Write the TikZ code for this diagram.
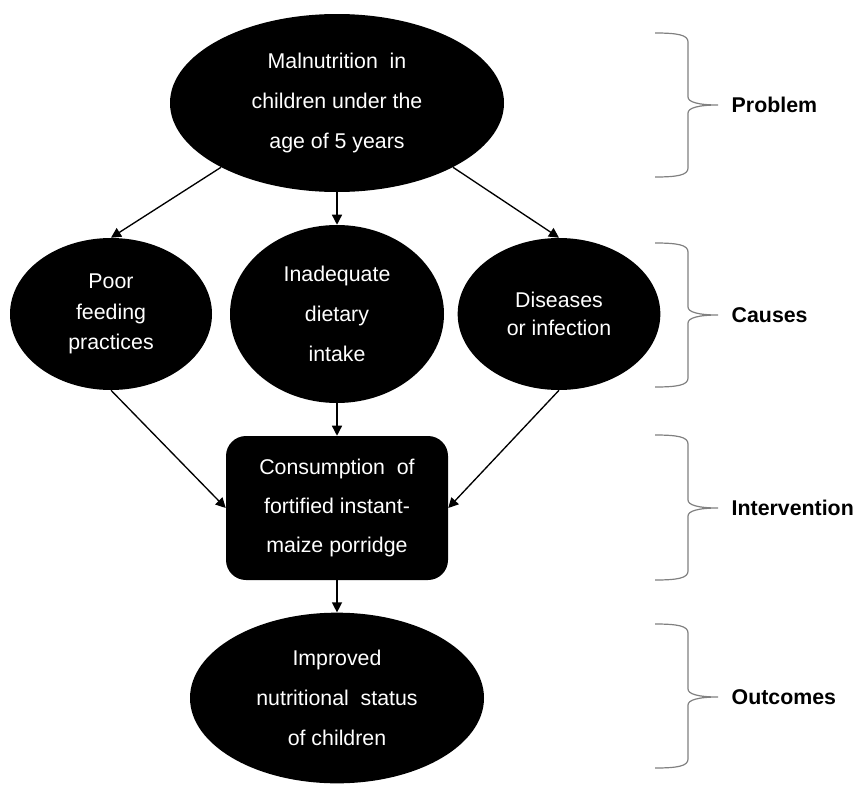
\documentclass[tikz,border=0pt]{standalone}
\usepackage{fontspec}
\setmainfont{Liberation Sans}
\usetikzlibrary{shapes.geometric}
\usetikzlibrary{arrows.meta}

\begin{document}
\begin{tikzpicture}[x=0.75pt,y=-0.75pt,
    >={Triangle[length=7.5pt,width=7.5pt]},
    bubble/.style={ellipse,fill=black,text=white,inner sep=0pt,align=center},
    block/.style={rectangle,rounded corners=15pt,fill=black,text=white,inner sep=0pt,align=center},
    brace/.style={draw=black!50,line width=0.9pt},
    tag/.style={anchor=west,font=\fontsize{16}{19}\selectfont\bfseries},
    link/.style={->,line width=1pt}]
    \useasboundingbox (0,0) rectangle (863,785);

    % 问题、原因、干预、结果
    \node[bubble,minimum width=250.5pt,minimum height=133.5pt,font=\fontsize{16}{30}\selectfont] (top) at (337,103) {Malnutrition\ \ in\\children under the\\age of 5 years};
    \node[bubble,minimum width=151.5pt,minimum height=114pt,font=\fontsize{16}{23}\selectfont] (poor) at (111,314) {Poor\\feeding\\practices};
    \node[bubble,minimum width=160.5pt,minimum height=133.5pt,font=\fontsize{16}{30}\selectfont] (inad) at (337,314) {Inadequate\\dietary\\intake};
    \node[bubble,minimum width=152pt,minimum height=114pt,font=\fontsize{16}{21}\selectfont] (dis) at (559,314) {Diseases\\or infection};
    \node[block,minimum width=166.5pt,minimum height=108pt,font=\fontsize{16}{29}\selectfont] (porr) at (337,508) {Consumption\ \ of\\fortified instant-\\maize porridge};
    \node[bubble,minimum width=220.5pt,minimum height=128pt,font=\fontsize{16}{30}\selectfont] (out) at (337,698) {Improved\\nutritional\ \ status\\of children};

    % 箭头
    \draw[link] (top.209) -- (poor.north);
    \draw[link] (top.south) -- (inad.north);
    \draw[link] (top.-29) -- (dis.north);
    \draw[link] (poor.south) -- (porr.west);
    \draw[link] (inad.south) -- (porr.north);
    \draw[link] (dis.south) -- (porr.east);
    \draw[link] (porr.south) -- (out.north);

    % 右侧括号
    \draw[brace] (655,33) .. controls (678,33) and (688,35) .. (688,42) -- (688,97) .. controls (688,102) and (698,105) .. (718,105) .. controls (698,105) and (688,108) .. (688,113) -- (688,168) .. controls (688,175) and (678,177) .. (655,177);
    \draw[brace] (655,243) .. controls (678,243) and (688,245) .. (688,252) -- (688,307) .. controls (688,312) and (698,315) .. (718,315) .. controls (698,315) and (688,318) .. (688,323) -- (688,378) .. controls (688,385) and (678,387) .. (655,387);
    \draw[brace] (655,435) .. controls (678,435) and (688,437) .. (688,444) -- (688,500) .. controls (688,505) and (698,508) .. (718,508) .. controls (698,508) and (688,511) .. (688,516) -- (688,571) .. controls (688,578) and (678,580) .. (655,580);
    \draw[brace] (655,624) .. controls (678,624) and (688,626) .. (688,633) -- (688,689) .. controls (688,694) and (698,697) .. (718,697) .. controls (698,697) and (688,700) .. (688,705) -- (688,759) .. controls (688,766) and (678,768) .. (655,768);

    \node[tag] (lprob) at (727,105) {Problem};
    \node[tag] (lcaus) at (727,315) {Causes};
    \node[tag] (linter) at (727,508) {Intervention};
    \node[tag] (lout) at (727,697) {Outcomes};
\end{tikzpicture}
\end{document}
